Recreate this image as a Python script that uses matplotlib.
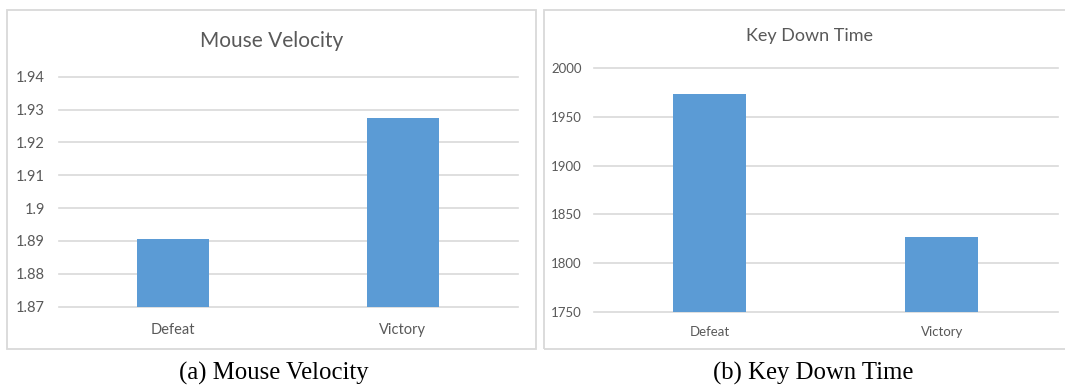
import matplotlib
matplotlib.use("Agg")
import matplotlib.pyplot as plt
from matplotlib.patches import Rectangle

# Data
categories = ["Defeat", "Victory"]
mouse_velocity = [1.8905, 1.9275]
key_down_time = [1973.4, 1827.3]

mv_ticks = [1.87, 1.88, 1.89, 1.90, 1.91, 1.92, 1.93, 1.94]
mv_tick_labels = ["1.87", "1.88", "1.89", "1.9", "1.91", "1.92", "1.93", "1.94"]
kd_ticks = [1750, 1800, 1850, 1900, 1950, 2000]
kd_tick_labels = ["1750", "1800", "1850", "1900", "1950", "2000"]

W, H = 1065, 387
BAR = "#5B9BD5"
GRID = "#D9D9D9"
TXT = "#595959"
SANS = ["Lato", "DejaVu Sans"]
SERIF = ["Liberation Serif", "DejaVu Serif"]

fig = plt.figure(figsize=(W / 100, H / 100), dpi=100)
fig.patch.set_facecolor("white")


def px_rect(x0, y0, x1, y1):
    """Convert pixel box (top-left origin) to figure fraction [l, b, w, h]."""
    return [x0 / W, 1 - y1 / H, (x1 - x0) / W, (y1 - y0) / H]


def frame(x0, y0, x1, y1):
    fig.patches.append(Rectangle((x0 / W, 1 - y1 / H), (x1 - x0) / W, (y1 - y0) / H,
                                 transform=fig.transFigure, fill=False,
                                 edgecolor=GRID, linewidth=1.3))


def bar_panel(rect, values, ticks, labels, tick_size, cat_size, ypad, xpad):
    ax = fig.add_axes(rect)
    x = list(range(len(categories)))
    ax.bar(x, values, width=0.315, color=BAR, zorder=3)
    ax.set_xlim(-0.5, len(categories) - 0.5)
    ax.set_ylim(ticks[0], ticks[-1])
    ax.set_yticks(ticks)
    ax.set_yticklabels(labels, fontsize=tick_size, color=TXT, family=SANS)
    ax.set_xticks(x)
    ax.set_xticklabels(categories, fontsize=cat_size, color=TXT, family=SANS)
    ax.tick_params(axis="both", length=0)
    ax.tick_params(axis="y", pad=ypad)
    ax.tick_params(axis="x", pad=xpad)
    for s in ax.spines.values():
        s.set_visible(False)
    ax.grid(axis="y", color=GRID, linewidth=1.2, zorder=0)
    ax.set_axisbelow(True)
    for gl in ax.get_ygridlines():
        gl.set_clip_on(False)
    return ax


# Panel (a)
frame(7.2, 10, 535.7, 349)
bar_panel(px_rect(58.5, 76.7, 517.6, 306.7), mouse_velocity, mv_ticks, mv_tick_labels,
          10.5, 10.5, 9.8, 11.5)
fig.text(271.5 / W, 1 - 40.7 / H, "Mouse Velocity", ha="center", va="center",
         fontsize=15, color=TXT, family=SANS)
fig.text(274 / W, 1 - 373.5 / H, "(a) Mouse Velocity", ha="center", va="center",
         fontsize=17.8, color="black", family=SERIF)

# Panel (b)
frame(544.4, 10, 1070, 349)
bar_panel(px_rect(593.5, 67.7, 1057.7, 312.3), key_down_time, kd_ticks, kd_tick_labels,
          9.5, 9.5, 8.5, 10)
fig.text(809.5 / W, 1 - 35.7 / H, "Key Down Time", ha="center", va="center",
         fontsize=13, color=TXT, family=SANS)
fig.text(813 / W, 1 - 373.5 / H, "(b) Key Down Time", ha="center", va="center",
         fontsize=17.8, color="black", family=SERIF)

fig.savefig("out.png", dpi=100, facecolor="white")
